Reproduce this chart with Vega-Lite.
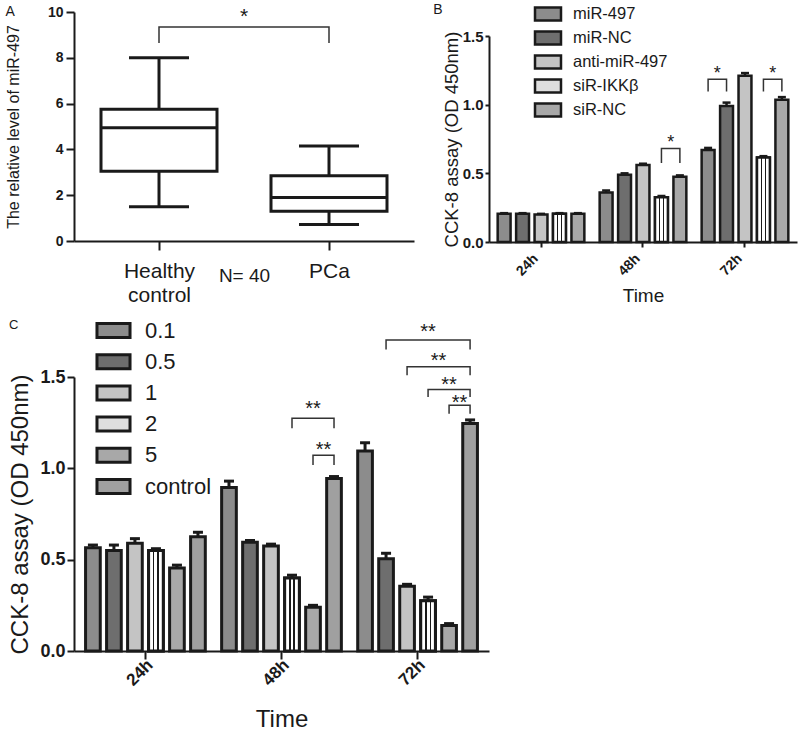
{
  "$schema": "https://vega.github.io/schema/vega-lite/v6.json",
  "background": "white",
  "padding": {"left": 5, "top": 3, "right": 5, "bottom": 5},
  "config": {
    "font": "Liberation Sans",
    "view": {"stroke": null},
    "axis": {"domainColor": "#1a1a1a", "tickColor": "#1a1a1a", "labelColor": "#1a1a1a", "titleColor": "#1a1a1a", "grid": false, "labelFontWeight": "bold", "titleFontWeight": "normal", "domainWidth": 2, "tickWidth": 2, "labelFont": "Liberation Sans", "titleFont": "Liberation Sans"},
    "legend": {"labelFont": "Liberation Sans", "labelColor": "#1a1a1a", "padding": 0}
  },
  "datasets": {
    "boxA": [
      {"group": "Healthy control", "min": 1.5, "q1": 3.05, "median": 4.95, "q3": 5.75, "max": 8.0},
      {"group": "PCa", "min": 0.72, "q1": 1.3, "median": 1.9, "q3": 2.85, "max": 4.15}
    ],
    "bracketA": [
      {"group": "Healthy control", "value": 8.65, "seq": 1},
      {"group": "Healthy control", "value": 9.35, "seq": 2},
      {"group": "PCa", "value": 9.35, "seq": 3},
      {"group": "PCa", "value": 8.65, "seq": 4}
    ],
    "starA": [{"group": "N= 40", "value": 9.79, "label": "*"}],
    "barsB": [
      {"time": "24h", "group": "miR-497", "value": 0.205, "hi": 0.21},
      {"time": "24h", "group": "miR-NC", "value": 0.205, "hi": 0.21},
      {"time": "24h", "group": "anti-miR-497", "value": 0.2, "hi": 0.205},
      {"time": "24h", "group": "siR-IKKβ", "value": 0.205, "hi": 0.21},
      {"time": "24h", "group": "siR-NC", "value": 0.205, "hi": 0.21},
      {"time": "48h", "group": "miR-497", "value": 0.36, "hi": 0.375},
      {"time": "48h", "group": "miR-NC", "value": 0.49, "hi": 0.5},
      {"time": "48h", "group": "anti-miR-497", "value": 0.56, "hi": 0.57},
      {"time": "48h", "group": "siR-IKKβ", "value": 0.325, "hi": 0.335},
      {"time": "48h", "group": "siR-NC", "value": 0.475, "hi": 0.485},
      {"time": "72h", "group": "miR-497", "value": 0.67, "hi": 0.685},
      {"time": "72h", "group": "miR-NC", "value": 0.99, "hi": 1.015},
      {"time": "72h", "group": "anti-miR-497", "value": 1.21, "hi": 1.23},
      {"time": "72h", "group": "siR-IKKβ", "value": 0.615, "hi": 0.625},
      {"time": "72h", "group": "siR-NC", "value": 1.035, "hi": 1.055}
    ],
    "bracketB": [
      {"id": "b1", "time": "48h", "group": "siR-IKKβ", "value": 0.575, "seq": 1},
      {"id": "b1", "time": "48h", "group": "siR-IKKβ", "value": 0.68, "seq": 2},
      {"id": "b1", "time": "48h", "group": "siR-NC", "value": 0.68, "seq": 3},
      {"id": "b1", "time": "48h", "group": "siR-NC", "value": 0.575, "seq": 4},
      {"id": "b2", "time": "72h", "group": "miR-497", "value": 1.095, "seq": 1},
      {"id": "b2", "time": "72h", "group": "miR-497", "value": 1.185, "seq": 2},
      {"id": "b2", "time": "72h", "group": "miR-NC", "value": 1.185, "seq": 3},
      {"id": "b2", "time": "72h", "group": "miR-NC", "value": 1.095, "seq": 4},
      {"id": "b3", "time": "72h", "group": "siR-IKKβ", "value": 1.095, "seq": 1},
      {"id": "b3", "time": "72h", "group": "siR-IKKβ", "value": 1.185, "seq": 2},
      {"id": "b3", "time": "72h", "group": "siR-NC", "value": 1.185, "seq": 3},
      {"id": "b3", "time": "72h", "group": "siR-NC", "value": 1.095, "seq": 4}
    ],
    "starB": [
      {"time": "48h", "group": "siR-IKKβ", "value": 0.72, "label": "*"},
      {"time": "72h", "group": "miR-497", "value": 1.22, "label": "*"},
      {"time": "72h", "group": "siR-IKKβ", "value": 1.22, "label": "*"}
    ],
    "barsC": [
      {"time": "24h", "group": "0.1", "value": 0.565, "hi": 0.58},
      {"time": "24h", "group": "0.5", "value": 0.55, "hi": 0.58},
      {"time": "24h", "group": "1", "value": 0.59, "hi": 0.615},
      {"time": "24h", "group": "2", "value": 0.55, "hi": 0.56},
      {"time": "24h", "group": "5", "value": 0.455, "hi": 0.47},
      {"time": "24h", "group": "control", "value": 0.625, "hi": 0.65},
      {"time": "48h", "group": "0.1", "value": 0.895, "hi": 0.93},
      {"time": "48h", "group": "0.5", "value": 0.595, "hi": 0.605},
      {"time": "48h", "group": "1", "value": 0.575, "hi": 0.585},
      {"time": "48h", "group": "2", "value": 0.4, "hi": 0.415},
      {"time": "48h", "group": "5", "value": 0.24, "hi": 0.25},
      {"time": "48h", "group": "control", "value": 0.945, "hi": 0.955},
      {"time": "72h", "group": "0.1", "value": 1.095, "hi": 1.14},
      {"time": "72h", "group": "0.5", "value": 0.505, "hi": 0.535},
      {"time": "72h", "group": "1", "value": 0.355, "hi": 0.365},
      {"time": "72h", "group": "2", "value": 0.275, "hi": 0.295},
      {"time": "72h", "group": "5", "value": 0.14, "hi": 0.15},
      {"time": "72h", "group": "control", "value": 1.245, "hi": 1.265}
    ],
    "bracketC": [
      {"id": "u1", "time": "48h", "group": "2", "value": 1.219, "seq": 1},
      {"id": "u1", "time": "48h", "group": "2", "value": 1.274, "seq": 2},
      {"id": "u1", "time": "48h", "group": "control", "value": 1.274, "seq": 3},
      {"id": "u1", "time": "48h", "group": "control", "value": 1.219, "seq": 4},
      {"id": "u2", "time": "48h", "group": "5", "value": 1.018, "seq": 1},
      {"id": "u2", "time": "48h", "group": "5", "value": 1.071, "seq": 2},
      {"id": "u2", "time": "48h", "group": "control", "value": 1.071, "seq": 3},
      {"id": "u2", "time": "48h", "group": "control", "value": 1.018, "seq": 4},
      {"id": "v1", "time": "72h", "group": "0.5", "value": 1.651, "seq": 1},
      {"id": "v1", "time": "72h", "group": "0.5", "value": 1.702, "seq": 2},
      {"id": "v1", "time": "72h", "group": "control", "value": 1.702, "seq": 3},
      {"id": "v1", "time": "72h", "group": "control", "value": 1.651, "seq": 4},
      {"id": "v2", "time": "72h", "group": "1", "value": 1.509, "seq": 1},
      {"id": "v2", "time": "72h", "group": "1", "value": 1.556, "seq": 2},
      {"id": "v2", "time": "72h", "group": "control", "value": 1.556, "seq": 3},
      {"id": "v2", "time": "72h", "group": "control", "value": 1.509, "seq": 4},
      {"id": "v3", "time": "72h", "group": "2", "value": 1.39, "seq": 1},
      {"id": "v3", "time": "72h", "group": "2", "value": 1.432, "seq": 2},
      {"id": "v3", "time": "72h", "group": "control", "value": 1.432, "seq": 3},
      {"id": "v3", "time": "72h", "group": "control", "value": 1.39, "seq": 4},
      {"id": "v4", "time": "72h", "group": "5", "value": 1.299, "seq": 1},
      {"id": "v4", "time": "72h", "group": "5", "value": 1.345, "seq": 2},
      {"id": "v4", "time": "72h", "group": "control", "value": 1.345, "seq": 3},
      {"id": "v4", "time": "72h", "group": "control", "value": 1.299, "seq": 4}
    ],
    "starCat": [
      {"time": "48h", "group": "5", "value": 1.325, "label": "**"},
      {"time": "72h", "group": "2", "value": 1.745, "label": "**"},
      {"time": "72h", "group": "5", "value": 1.457, "label": "**"}
    ],
    "starMid": [
      {"time": "48h", "group": "5", "value": 1.1, "label": "**"},
      {"time": "72h", "group": "2", "value": 1.585, "label": "**"},
      {"time": "72h", "group": "5", "value": 1.355, "label": "**"}
    ]
  },
  "columns": 1,
  "align": "none",
  "spacing": 10,
  "resolve": {"scale": {"fill": "independent", "xOffset": "independent", "x": "independent", "y": "independent"}, "legend": {"fill": "independent"}},
  "concat": [
    {
      "columns": 2,
      "align": "none",
      "spacing": 19,
      "resolve": {"scale": {"fill": "independent", "xOffset": "independent", "x": "independent", "y": "independent"}, "legend": {"fill": "independent"}},
      "concat": [
        {
          "width": 340,
          "height": 229,
          "title": {"text": "A", "anchor": "start", "frame": "bounds", "offset": -14, "fontSize": 14, "fontWeight": "normal", "color": "#1a1a1a"},
          "layer": [
            {
              "data": {"name": "boxA"},
              "mark": {"type": "rule", "stroke": "#1a1a1a", "strokeWidth": 3},
              "encoding": {
                "x": {"field": "group", "type": "nominal",
                  "scale": {"type": "point", "domain": ["Healthy control", "N= 40", "PCa"], "padding": 1},
                  "axis": {"title": "N= 40", "titleFontSize": 19, "titleFontWeight": "normal", "titleY": 25, "values": ["Healthy control", "PCa"],
                    "labelExpr": "datum.value == 'Healthy control' ? ['Healthy', 'control'] : datum.value",
                    "labelFontSize": 21, "labelFontWeight": "normal", "labelAngle": 0, "labelPadding": 10, "labelLineHeight": 24, "tickSize": 9}},
                "y": {"field": "min", "type": "quantitative", "scale": {"domain": [0, 10], "nice": false},
                  "axis": {"title": "The relative level of miR-497", "titleFontSize": 16, "titlePadding": 26, "values": [0, 2, 4, 6, 8, 10], "format": "d", "labelFontSize": 14, "tickSize": 8, "labelPadding": 3}},
                "y2": {"field": "max"}
              }
            },
            {
              "data": {"name": "boxA"},
              "mark": {"type": "bar", "width": 116, "fill": "white", "stroke": "#1a1a1a", "strokeWidth": 3},
              "encoding": {
                "x": {"field": "group", "type": "nominal"},
                "y": {"field": "q1", "type": "quantitative"},
                "y2": {"field": "q3"}
              }
            },
            {
              "data": {"name": "boxA"},
              "mark": {"type": "tick", "size": 116, "thickness": 3, "color": "#1a1a1a", "opacity": 1},
              "encoding": {
                "x": {"field": "group", "type": "nominal"},
                "y": {"field": "median", "type": "quantitative"}
              }
            },
            {
              "data": {"name": "boxA"},
              "mark": {"type": "tick", "size": 60, "thickness": 3, "color": "#1a1a1a", "opacity": 1},
              "encoding": {
                "x": {"field": "group", "type": "nominal"},
                "y": {"field": "min", "type": "quantitative"}
              }
            },
            {
              "data": {"name": "boxA"},
              "mark": {"type": "tick", "size": 60, "thickness": 3, "color": "#1a1a1a", "opacity": 1},
              "encoding": {
                "x": {"field": "group", "type": "nominal"},
                "y": {"field": "max", "type": "quantitative"}
              }
            },
            {
              "data": {"name": "bracketA"},
              "mark": {"type": "line", "color": "#333333", "strokeWidth": 1.5},
              "encoding": {
                "x": {"field": "group", "type": "nominal"},
                "y": {"field": "value", "type": "quantitative"},
                "order": {"field": "seq", "type": "quantitative"}
              }
            },
            {
              "data": {"name": "starA"},
              "mark": {"type": "text", "fontSize": 21, "color": "#1a1a1a", "baseline": "middle"},
              "encoding": {
                "x": {"field": "group", "type": "nominal"},
                "y": {"field": "value", "type": "quantitative"},
                "text": {"field": "label"}
              }
            }
          ]
        },
        {
          "width": 308,
          "height": 230,
          "title": {"text": "B", "anchor": "start", "frame": "bounds", "offset": -14, "fontSize": 14, "fontWeight": "normal", "color": "#1a1a1a", "dx": -9},
          "layer": [
            {
              "data": {"name": "barsB"},
              "mark": {"type": "bar", "stroke": "#1a1a1a", "strokeWidth": 2.5},
              "encoding": {
                "x": {"field": "time", "type": "nominal", "scale": {"paddingInner": 0.15, "paddingOuter": 0.085},
                  "axis": {"title": "Time", "titleFontSize": 19, "titleY": 44, "labelAngle": -45, "labelFontSize": 14, "labelPadding": 9, "labelOffset": -5, "tickSize": 5, "labelAlign": "right", "labelBaseline": "middle"}},
                "xOffset": {"field": "group", "type": "nominal", "scale": {"domain": ["miR-497", "miR-NC", "anti-miR-497", "siR-IKKβ", "siR-NC"], "paddingInner": 0.3, "paddingOuter": 0}},
                "y": {"field": "value", "type": "quantitative", "scale": {"domain": [0, 1.5], "nice": false, "range": [230, 24]},
                  "axis": {"title": "CCK-8 assay (OD 450nm)", "titleFontSize": 18.5, "titlePadding": 1, "values": [0, 0.5, 1, 1.5], "format": ".1f", "labelFontSize": 15, "tickSize": 4, "labelPadding": 2}},
                "fill": {"field": "group", "type": "nominal",
                  "scale": {"domain": ["miR-497", "miR-NC", "anti-miR-497", "siR-IKKβ", "siR-NC"],
                    "range": ["#8c8c8c", "#6e6e6e", "#c4c4c4", "#dedede", "#a8a8a8"]},
                  "legend": {"title": null, "orient": "none", "legendX": 48, "legendY": -9, "symbolType": "M-1.368,-0.684H1.368V0.684H-1.368Z", "symbolSize": 361, "symbolStrokeColor": "#1a1a1a", "symbolStrokeWidth": 2.5, "symbolOpacity": 1, "labelFontSize": 16.5, "labelFontWeight": "normal", "labelOffset": 14, "rowPadding": 0}}
              }
            },
            {
              "data": {"name": "barsB"},
              "transform": [{"filter": "datum.group == 'siR-IKKβ'"}],
              "mark": {"type": "bar", "stroke": "#1a1a1a", "strokeWidth": 2.5,
                "fill": {"gradient": "linear", "x1": 0, "y1": 0, "x2": 1, "y2": 0, "stops": [
                  {"offset": 0, "color": "#ffffff"}, {"offset": 0.3, "color": "#ffffff"}, {"offset": 0.3, "color": "#1a1a1a"}, {"offset": 0.4, "color": "#1a1a1a"},
                  {"offset": 0.4, "color": "#ffffff"}, {"offset": 0.6, "color": "#ffffff"}, {"offset": 0.6, "color": "#1a1a1a"}, {"offset": 0.7, "color": "#1a1a1a"},
                  {"offset": 0.7, "color": "#ffffff"}, {"offset": 1, "color": "#ffffff"}]}},
              "encoding": {
                "x": {"field": "time", "type": "nominal"},
                "xOffset": {"field": "group", "type": "nominal"},
                "y": {"field": "value", "type": "quantitative"}
              }
            },
            {
              "data": {"name": "barsB"},
              "mark": {"type": "rule", "color": "#1a1a1a", "strokeWidth": 2.5},
              "encoding": {
                "x": {"field": "time", "type": "nominal"},
                "xOffset": {"field": "group", "type": "nominal"},
                "y": {"field": "value", "type": "quantitative"},
                "y2": {"field": "hi"}
              }
            },
            {
              "data": {"name": "barsB"},
              "mark": {"type": "tick", "color": "#1a1a1a", "size": 8, "thickness": 2.5, "opacity": 1},
              "encoding": {
                "x": {"field": "time", "type": "nominal"},
                "xOffset": {"field": "group", "type": "nominal"},
                "y": {"field": "hi", "type": "quantitative"}
              }
            },
            {
              "data": {"name": "bracketB"},
              "mark": {"type": "line", "color": "#333333", "strokeWidth": 1.5},
              "encoding": {
                "x": {"field": "time", "type": "nominal"},
                "xOffset": {"field": "group", "type": "nominal"},
                "y": {"field": "value", "type": "quantitative"},
                "detail": {"field": "id"},
                "order": {"field": "seq", "type": "quantitative"}
              }
            },
            {
              "data": {"name": "starB"},
              "mark": {"type": "text", "fontSize": 18, "color": "#1a1a1a", "baseline": "middle", "dx": 9.2},
              "encoding": {
                "x": {"field": "time", "type": "nominal"},
                "xOffset": {"field": "group", "type": "nominal"},
                "y": {"field": "value", "type": "quantitative"},
                "text": {"field": "label"}
              }
            }
          ]
        }
      ]
    },
    {
      "width": 415,
      "height": 274,
      "title": {"text": "C", "anchor": "start", "frame": "bounds", "offset": -17, "fontSize": 13, "fontWeight": "normal", "color": "#1a1a1a"},
      "layer": [
        {
          "data": {"name": "barsC"},
          "mark": {"type": "bar", "stroke": "#1a1a1a", "strokeWidth": 3},
          "encoding": {
            "x": {"field": "time", "type": "nominal", "scale": {"paddingInner": 0.12, "paddingOuter": 0.085},
              "axis": {"title": "Time", "titleFontSize": 24, "titleY": 56, "labelAngle": -45, "labelFontSize": 17, "labelPadding": 3, "labelOffset": 5, "tickSize": 8, "labelAlign": "right", "labelBaseline": "middle"}},
            "xOffset": {"field": "group", "type": "nominal", "scale": {"domain": ["0.1", "0.5", "1", "2", "5", "control"], "paddingInner": 0.3, "paddingOuter": 0}},
            "y": {"field": "value", "type": "quantitative", "scale": {"domain": [0, 1.5], "nice": false},
              "axis": {"title": "CCK-8 assay (OD 450nm)", "titleFontSize": 24, "titlePadding": 7, "values": [0, 0.5, 1, 1.5], "format": ".1f", "labelFontSize": 18, "tickSize": 7, "labelPadding": 2}},
            "fill": {"field": "group", "type": "nominal",
              "scale": {"domain": ["0.1", "0.5", "1", "2", "5", "control"],
                "range": ["#8c8c8c", "#6e6e6e", "#c4c4c4", "#dedede", "#a8a8a8", "#a0a0a0"]},
              "legend": {"title": null, "orient": "none", "legendX": 24, "legendY": -62, "symbolType": "M-1.18,-0.5H1.18V0.5H-1.18Z", "symbolSize": 784, "symbolStrokeColor": "#1a1a1a", "symbolStrokeWidth": 3, "symbolOpacity": 1, "labelFontSize": 22, "labelFontWeight": "normal", "labelOffset": 16, "rowPadding": 2.2}}
          }
        },
        {
          "data": {"name": "barsC"},
          "transform": [{"filter": "datum.group == '2'"}],
          "mark": {"type": "bar", "stroke": "#1a1a1a", "strokeWidth": 3,
            "fill": {"gradient": "linear", "x1": 0, "y1": 0, "x2": 1, "y2": 0, "stops": [
              {"offset": 0, "color": "#ffffff"}, {"offset": 0.3, "color": "#ffffff"}, {"offset": 0.3, "color": "#1a1a1a"}, {"offset": 0.4, "color": "#1a1a1a"},
              {"offset": 0.4, "color": "#ffffff"}, {"offset": 0.6, "color": "#ffffff"}, {"offset": 0.6, "color": "#1a1a1a"}, {"offset": 0.7, "color": "#1a1a1a"},
              {"offset": 0.7, "color": "#ffffff"}, {"offset": 1, "color": "#ffffff"}]}},
          "encoding": {
            "x": {"field": "time", "type": "nominal"},
            "xOffset": {"field": "group", "type": "nominal"},
            "y": {"field": "value", "type": "quantitative"}
          }
        },
        {
          "data": {"name": "barsC"},
          "mark": {"type": "rule", "color": "#1a1a1a", "strokeWidth": 3},
          "encoding": {
            "x": {"field": "time", "type": "nominal"},
            "xOffset": {"field": "group", "type": "nominal"},
            "y": {"field": "value", "type": "quantitative"},
            "y2": {"field": "hi"}
          }
        },
        {
          "data": {"name": "barsC"},
          "mark": {"type": "tick", "color": "#1a1a1a", "size": 10, "thickness": 3, "opacity": 1},
          "encoding": {
            "x": {"field": "time", "type": "nominal"},
            "xOffset": {"field": "group", "type": "nominal"},
            "y": {"field": "hi", "type": "quantitative"}
          }
        },
        {
          "data": {"name": "bracketC"},
          "mark": {"type": "line", "color": "#333333", "strokeWidth": 1.5},
          "encoding": {
            "x": {"field": "time", "type": "nominal"},
            "xOffset": {"field": "group", "type": "nominal"},
            "y": {"field": "value", "type": "quantitative"},
            "detail": {"field": "id"},
            "order": {"field": "seq", "type": "quantitative"}
          }
        },
        {
          "data": {"name": "starCat"},
          "mark": {"type": "text", "fontSize": 20, "color": "#1a1a1a", "baseline": "middle"},
          "encoding": {
            "x": {"field": "time", "type": "nominal"},
            "xOffset": {"field": "group", "type": "nominal"},
            "y": {"field": "value", "type": "quantitative"},
            "text": {"field": "label"}
          }
        },
        {
          "data": {"name": "starMid"},
          "mark": {"type": "text", "fontSize": 20, "color": "#1a1a1a", "baseline": "middle", "dx": 10.5},
          "encoding": {
            "x": {"field": "time", "type": "nominal"},
            "xOffset": {"field": "group", "type": "nominal"},
            "y": {"field": "value", "type": "quantitative"},
            "text": {"field": "label"}
          }
        }
      ]
    }
  ]
}
